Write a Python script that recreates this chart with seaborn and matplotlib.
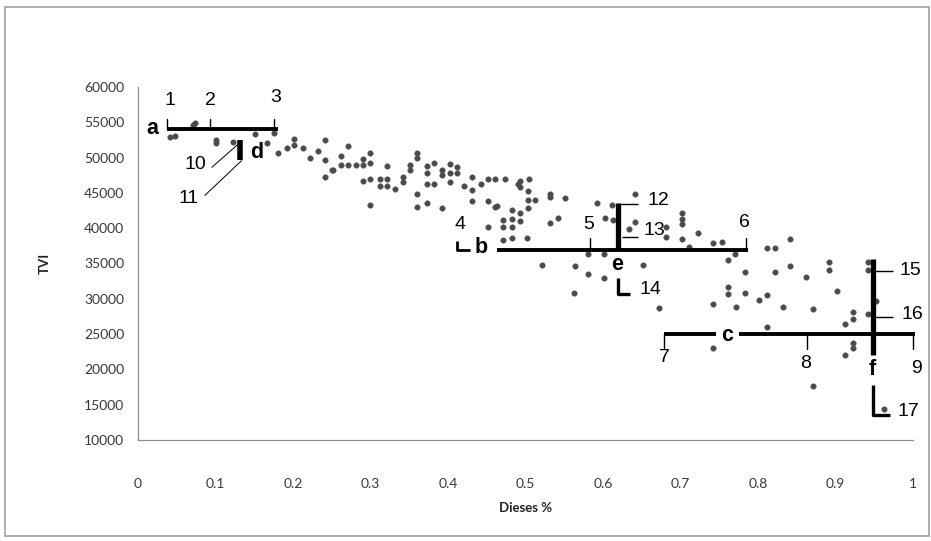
import matplotlib
matplotlib.use("Agg")
import matplotlib.pyplot as plt
import seaborn as sns
import pandas as pd
from matplotlib.patches import Rectangle

# ---------------- data ----------------
dieses = [0.041, 0.048, 0.071, 0.074, 0.100, 0.100, 0.123, 0.151, 0.166, 0.175,
          0.181, 0.192, 0.201, 0.201, 0.213, 0.222, 0.232, 0.241, 0.241, 0.250,
          0.252, 0.241, 0.262, 0.262, 0.271, 0.271, 0.281, 0.290, 0.290, 0.300,
          0.300, 0.290, 0.300, 0.300, 0.312, 0.312, 0.321, 0.321, 0.321, 0.332,
          0.342, 0.342, 0.351, 0.351, 0.360, 0.360, 0.360, 0.360, 0.373, 0.373,
          0.373, 0.373, 0.382, 0.382, 0.392, 0.392, 0.392, 0.403, 0.403, 0.403,
          0.412, 0.412, 0.421, 0.431, 0.431, 0.431, 0.443, 0.452, 0.452, 0.452,
          0.461, 0.461, 0.474, 0.463, 0.493, 0.493, 0.483, 0.493, 0.483, 0.493,
          0.503, 0.503, 0.503, 0.512, 0.471, 0.471, 0.483, 0.471, 0.483, 0.502,
          0.532, 0.532, 0.551, 0.532, 0.542, 0.592, 0.612, 0.641, 0.603, 0.613,
          0.521, 0.564, 0.581, 0.601, 0.563, 0.581, 0.652, 0.601, 0.641, 0.634,
          0.681, 0.681, 0.702, 0.702, 0.702, 0.702, 0.723, 0.711, 0.742, 0.753,
          0.770, 0.761, 0.783, 0.812, 0.822, 0.841, 0.822, 0.841, 0.672, 0.761,
          0.761, 0.783, 0.742, 0.772, 0.801, 0.812, 0.832, 0.812, 0.742, 0.862,
          0.892, 0.892, 0.902, 0.871, 0.912, 0.922, 0.922, 0.942, 0.942, 0.942,
          0.912, 0.922, 0.922, 0.871, 0.963, 0.952, 0.490, 0.505]
tvi = [52900, 53000, 54600, 54900, 52450, 52000, 52160, 53300, 52000, 53450,
       50600, 51300, 52700, 51740, 51300, 49900, 50880, 52450, 49600, 48300,
       48300, 47200, 50170, 48900, 51600, 48900, 48900, 49740, 49000, 50600,
       49300, 46750, 47000, 43300, 47000, 46000, 48750, 47000, 46000, 45600,
       47200, 46600, 48900, 48300, 50600, 50000, 44900, 43000, 48750, 47750,
       46300, 43500, 49300, 46300, 48200, 47600, 42900, 49100, 47750, 46500,
       48600, 47750, 46000, 47300, 45400, 43900, 46300, 47000, 43900, 40100,
       47000, 43000, 47000, 43200, 46750, 45900, 42600, 42200, 41300, 41000,
       45200, 44000, 42800, 44000, 41200, 40100, 40100, 38300, 38600, 38600,
       44900, 44400, 44300, 40800, 41500, 43500, 43300, 44900, 41500, 41100,
       34800, 34600, 33500, 32900, 30800, 36300, 34800, 36300, 40900, 39900,
       40200, 38800, 42200, 41300, 40600, 38500, 39300, 37400, 37900, 38100,
       36400, 35500, 33800, 37200, 37200, 38500, 33800, 34600, 28700, 31700,
       30700, 30800, 29200, 28900, 29900, 30600, 28800, 26000, 23100, 33100,
       35200, 34100, 31100, 28500, 26500, 28200, 27200, 27800, 35200, 34100,
       22100, 23000, 23800, 17600, 14400, 29700, 46300, 46900]

# overlay annotation segments (x list, y list)
seg_a = ([0.038, 0.180], [54000, 54000])
tick_a = [0.037, 0.093, 0.176]
seg_d = ([0.132, 0.132], [52450, 49600])
lead_10 = ([0.095, 0.132], [48600, 52165])
lead_11 = ([0.086, 0.134], [44620, 49600])
seg_b_left = ([0.412, 0.412, 0.428], [38200, 36900, 36900])
seg_b = ([0.463, 0.787], [36900, 36900])
tick_b = [0.583, 0.785]
seg_e = ([0.619, 0.619], [43600, 36900])
seg_e_low = ([0.619, 0.619, 0.635], [32930, 30660, 30660])
stub_12 = ([0.619, 0.645], [43480, 43480])
stub_13 = ([0.624, 0.645], [38770, 38770])
seg_c1 = ([0.679, 0.746], [25000, 25000])
seg_c2 = ([0.775, 1.002], [25000, 25000])
tick_c = [0.679, 0.863, 1.0]
seg_f = ([0.948, 0.948], [35640, 22100])
seg_f_low = ([0.948, 0.948, 0.970], [17830, 13560, 13560])
stub_15 = ([0.948, 0.974], [33930, 33930])
stub_16 = ([0.948, 0.974], [27380, 27380])

num_labels = [("1", 0.041, 58150), ("2", 0.093, 58150), ("3", 0.177, 58580),
              ("10", 0.074, 49030), ("11", 0.065, 44190),
              ("4", 0.415, 40500), ("5", 0.582, 40500), ("6", 0.783, 40770),
              ("12", 0.671, 43900), ("13", 0.666, 39630), ("14", 0.661, 31370),
              ("7", 0.679, 21680), ("8", 0.862, 20830), ("9", 1.005, 20100),
              ("15", 0.996, 34070), ("16", 0.999, 27800), ("17", 0.994, 13990)]
let_labels = [("a", 0.018, 54160), ("d", 0.153, 50740), ("b", 0.443, 37200),
              ("e", 0.618, 34800), ("c", 0.760, 24850), ("f", 0.948, 19970)]

xticks = [0, 0.1, 0.2, 0.3, 0.4, 0.5, 0.6, 0.7, 0.8, 0.9, 1]
xticklabels = ["0", "0.1", "0.2", "0.3", "0.4", "0.5", "0.6", "0.7", "0.8", "0.9", "1"]
yticks = [10000, 15000, 20000, 25000, 30000, 35000, 40000, 45000, 50000, 55000, 60000]

# ---------------- plot ----------------
sns.set_theme(style="white")
plt.rcParams['font.family'] = ['Lato', 'DejaVu Sans']

fig = plt.figure(figsize=(9.31, 5.41), dpi=100)
fig.patch.set_facecolor("white")
fig.patches.append(Rectangle((5/931, 5/541), 924/931, 529/541, transform=fig.transFigure,
                             fill=False, edgecolor="#a0a0a0", linewidth=1.2))
ax = fig.add_axes([138/931, 1 - 440/541, 775/931, 353/541])

df = pd.DataFrame({"Dieses %": dieses, "TVI": tvi})
sns.scatterplot(data=df, x="Dieses %", y="TVI", ax=ax, marker="o", s=16,
                color="#4a4a4a", edgecolor="#5a5a5a", linewidth=0.3, zorder=2)

ax.set_xlim(0, 1)
ax.set_ylim(10000, 60000)
ax.set_xticks(xticks)
ax.set_xticklabels(xticklabels)
ax.set_yticks(yticks)
ax.set_yticklabels([str(v) for v in yticks])
ax.tick_params(axis="both", colors="#383838", labelsize=10, direction="out")
ax.tick_params(axis="x", length=5, width=0.8, pad=22, color="#909090")
ax.tick_params(axis="y", length=4, width=0.8, pad=6, color="#909090")
for s in ["top", "right"]:
    ax.spines[s].set_visible(False)
for s in ["left", "bottom"]:
    ax.spines[s].set_color("#909090")
    ax.spines[s].set_linewidth(0.9)
ax.set_xlabel("Dieses %", fontsize=9.5, fontweight="bold", color="#222222", labelpad=9)
ax.set_ylabel("TVI", fontsize=9.5, fontweight="bold", color="#222222", labelpad=24)

K = "black"
def seg(s, lw=2.8):
    ax.plot(s[0], s[1], color=K, lw=lw, solid_capstyle="butt", clip_on=False, zorder=3)

seg(seg_a, 2.8)
for tx in tick_a:
    ax.plot([tx, tx], [54000, 55400], color=K, lw=1.0, clip_on=False, zorder=3)
seg(seg_d, 4.0)
seg(lead_10, 0.7)
seg(lead_11, 0.7)
seg(seg_b_left, 2.0)
seg(seg_b, 2.8)
for tx in tick_b:
    ax.plot([tx, tx], [36900, 38600], color=K, lw=1.0, clip_on=False, zorder=3)
seg(seg_e, 3.8)
seg(seg_e_low, 2.4)
seg(stub_12, 1.0)
seg(stub_13, 1.0)
seg(seg_c1, 2.8)
seg(seg_c2, 2.8)
for tx in tick_c:
    ax.plot([tx, tx], [25000, 22900], color=K, lw=1.0, clip_on=False, zorder=3)
seg(seg_f, 3.8)
seg(seg_f_low, 2.4)
seg(stub_15, 1.0)
seg(stub_16, 1.0)

for t, x, y in num_labels:
    ax.text(x, y, t, fontsize=14, ha="center", va="center", color="black",
            family=["Liberation Sans", "DejaVu Sans"], zorder=4)
for t, x, y in let_labels:
    ax.text(x, y, t, fontsize=15.5, ha="center", va="center", color="black",
            fontweight="bold", family=["Liberation Sans", "DejaVu Sans"], zorder=4)

fig.savefig("out.png", dpi=100, facecolor="white")
